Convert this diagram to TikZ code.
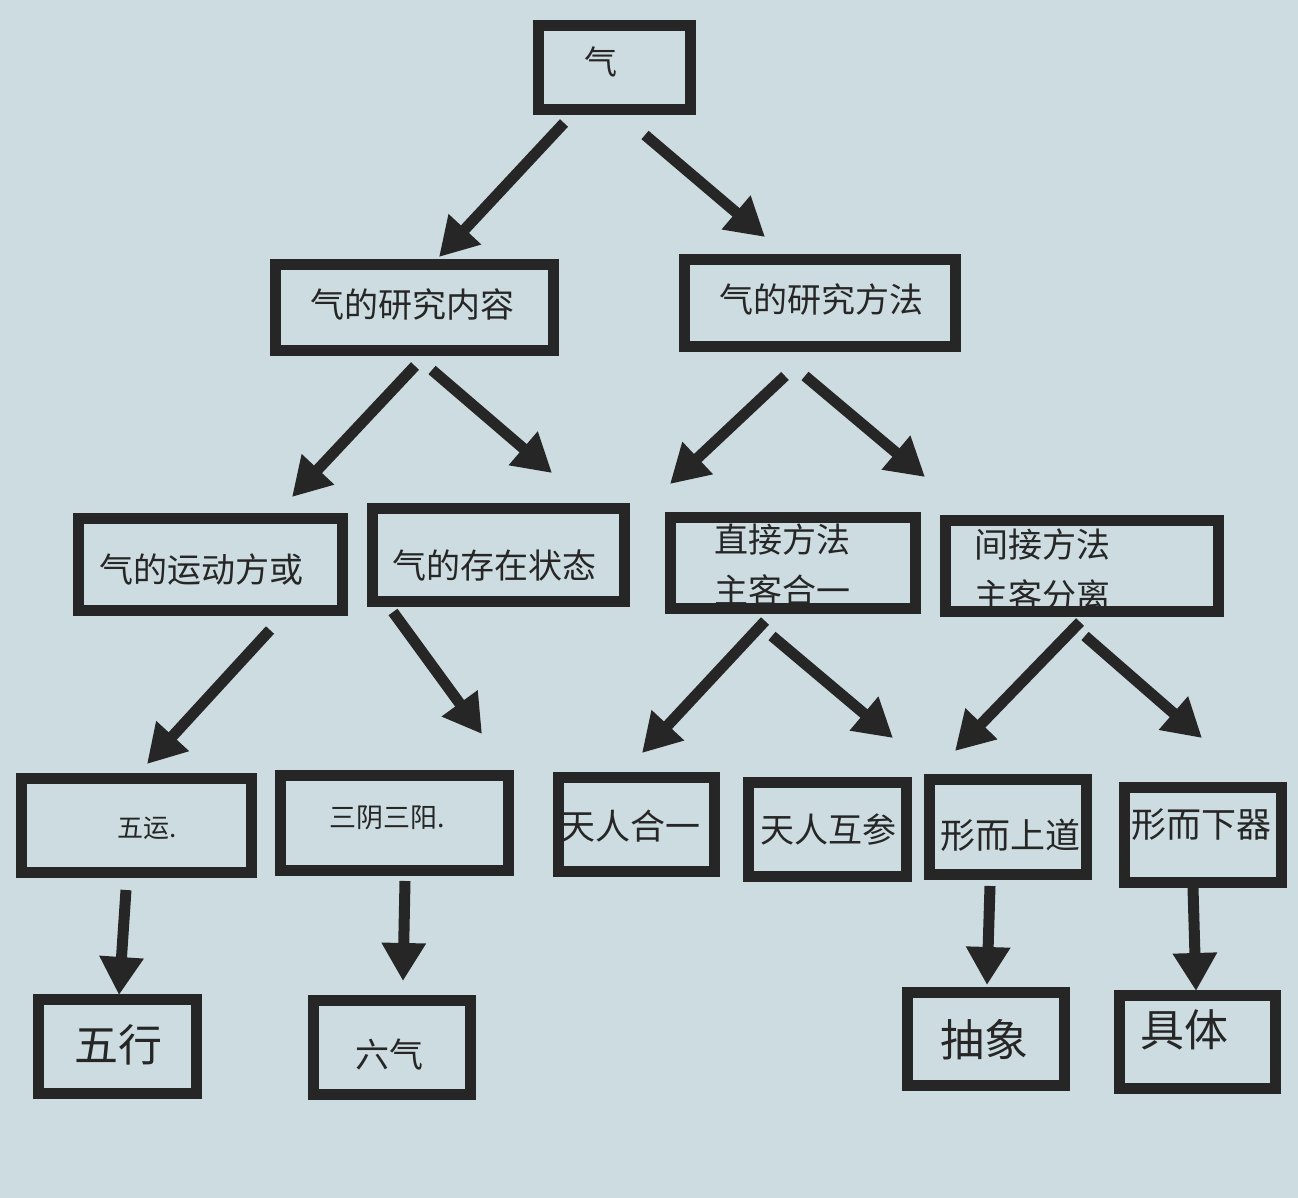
\documentclass[tikz,border=0pt]{standalone}
\usepackage{fontspec}
\newfontfamily\cjk{Noto Sans CJK SC}
\usetikzlibrary{arrows.meta}
\definecolor{bg}{RGB}{205,220,224}
\definecolor{ink}{RGB}{38,38,38}
\tikzset{
  box/.style={draw=ink, line width=11pt, inner sep=0pt, fill=none},
  lbl/.style={inner sep=0pt, text=ink, font=\cjk},
  arr/.style={draw=ink, line width=11pt, -{Triangle[length=38pt,width=42pt]}},
}
\newcommand\fs[1]{\fontsize{#1pt}{#1pt}\selectfont}
\begin{document}
\begin{tikzpicture}[x=1pt,y=-1pt]
\fill[bg] (0,0) rectangle (1298,1198);
\useasboundingbox (0,0) rectangle (1298,1198);
% boxes
\node[box, minimum width=152pt, minimum height=84pt] (b1) at (614.5,67.5) {};
\node[box, minimum width=278pt, minimum height=86pt] (b2) at (414.5,307.5) {};
\node[box, minimum width=271pt, minimum height=87pt] (b3) at (820,303) {};
\node[box, minimum width=264pt, minimum height=92pt] (b4) at (210.5,564.5) {};
\node[box, minimum width=252pt, minimum height=93pt] (b5) at (498.5,555) {};
\node[box, minimum width=245pt, minimum height=91pt] (b6) at (793,563) {};
\node[box, minimum width=273pt, minimum height=91pt] (b7) at (1082,566) {};
\node[box, minimum width=230pt, minimum height=94pt] (b8) at (136.5,825.5) {};
\node[box, minimum width=228pt, minimum height=95pt] (b9) at (394.5,823) {};
\node[box, minimum width=156pt, minimum height=94pt] (b10) at (636.5,824.5) {};
\node[box, minimum width=158pt, minimum height=94pt] (b11) at (827.5,829.5) {};
\node[box, minimum width=157pt, minimum height=95pt] (b12) at (1008,827) {};
\node[box, minimum width=157pt, minimum height=95pt] (b13) at (1203,835) {};
\node[box, minimum width=158pt, minimum height=94pt] (b14) at (117.5,1046.5) {};
\node[box, minimum width=157pt, minimum height=94pt] (b15) at (392,1047.5) {};
\node[box, minimum width=157pt, minimum height=93pt] (b16) at (986,1039) {};
\node[box, minimum width=156pt, minimum height=93pt] (b17) at (1197.5,1042) {};
% labels
\node[lbl, font=\cjk\fs{33}] (t1) at (601,62) {气};
\node[lbl, font=\cjk\fs{34}] (t2) at (412,305) {气的研究内容};
\node[lbl, font=\cjk\fs{34}] (t3) at (821,300) {气的研究方法};
\node[lbl, font=\cjk\fs{34}] (t4) at (201,570) {气的运动方或};
\node[lbl, font=\cjk\fs{34}] (t5) at (494,565) {气的存在状态};
\node[lbl, font=\cjk\fs{34}, anchor=west] (t6a) at (714,540) {直接方法};
\node[lbl, font=\cjk\fs{34}, anchor=west] (t6b) at (714,590) {主客合一};
\node[lbl, font=\cjk\fs{34}, anchor=west] (t7a) at (974,545) {间接方法};
\node[lbl, font=\cjk\fs{34}, anchor=west] (t7b) at (974,595) {主客分离};
\node[lbl, font=\cjk\fs{26}] (t8) at (147,828) {五运.};
\node[lbl, font=\cjk\fs{27}] (t9) at (387,818) {三阴三阳.};
\node[lbl, font=\cjk\fs{35}] (t10) at (630,826) {天人合一};
\node[lbl, font=\cjk\fs{34}] (t11) at (828,830) {天人互参};
\node[lbl, font=\cjk\fs{35}] (t12) at (1010,835) {形而上道};
\node[lbl, font=\cjk\fs{35}] (t13) at (1201,825) {形而下器};
\node[lbl, font=\cjk\fs{44}] (t14) at (118,1045) {五行};
\node[lbl, font=\cjk\fs{34}] (t15) at (389,1055) {六气};
\node[lbl, font=\cjk\fs{44}] (t16) at (984,1040) {抽象};
\node[lbl, font=\cjk\fs{44}] (t17) at (1184,1030) {具体};
% arrow endpoints
\coordinate (a1s) at (564,123);  \coordinate (a1e) at (439,257);
\coordinate (a2s) at (645,135);  \coordinate (a2e) at (765,237);
\coordinate (a3s) at (415,366);  \coordinate (a3e) at (292,497);
\coordinate (a4s) at (432,370);  \coordinate (a4e) at (552,473);
\coordinate (a5s) at (785,376);  \coordinate (a5e) at (670,484);
\coordinate (a6s) at (805,376);  \coordinate (a6e) at (925,477);
\coordinate (a7s) at (270,630);  \coordinate (a7e) at (147,764);
\coordinate (a8s) at (393,612);  \coordinate (a8e) at (482,734);
\coordinate (a9s) at (765,621);  \coordinate (a9e) at (642,753);
\coordinate (a10s) at (772,636); \coordinate (a10e) at (893,738);
\coordinate (a11s) at (1080,622); \coordinate (a11e) at (955,751);
\coordinate (a12s) at (1085,636); \coordinate (a12e) at (1202,738);
\coordinate (a13s) at (126,890); \coordinate (a13e) at (119,995);
\coordinate (a14s) at (405,881); \coordinate (a14e) at (403,981);
\coordinate (a15s) at (990,886); \coordinate (a15e) at (987,985);
\coordinate (a16s) at (1193,888); \coordinate (a16e) at (1196,991);
\foreach \i in {1,...,16} { \draw[arr] (a\i s) -- (a\i e); }
\end{tikzpicture}
\end{document}
